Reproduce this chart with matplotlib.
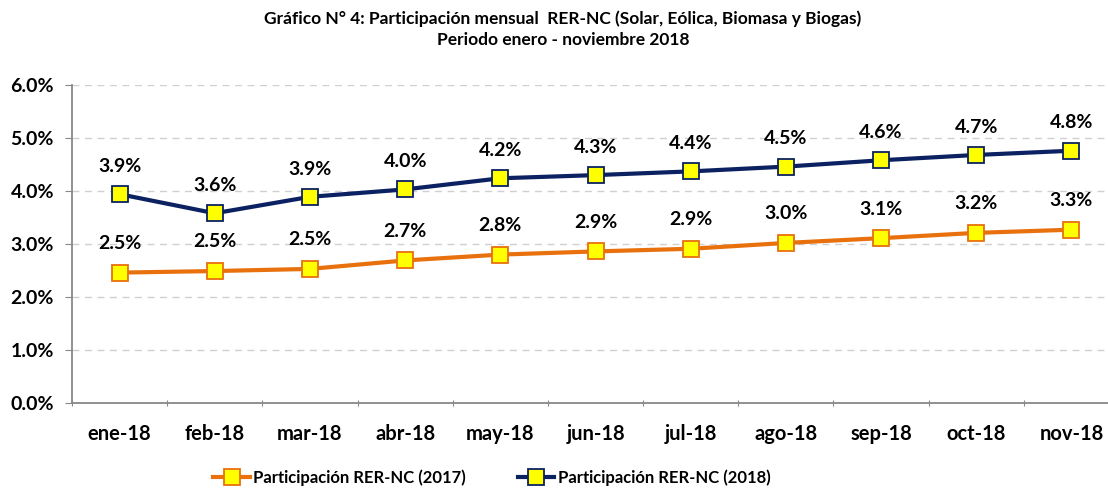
import matplotlib.pyplot as plt
from matplotlib.ticker import FixedLocator, NullFormatter, PercentFormatter

plt.rcParams['font.family'] = ['Lato', 'DejaVu Sans']
plt.rcParams['font.weight'] = 'bold'

months = ['ene-18', 'feb-18', 'mar-18', 'abr-18', 'may-18', 'jun-18',
          'jul-18', 'ago-18', 'sep-18', 'oct-18', 'nov-18']
rer_2017 = [2.46, 2.49, 2.53, 2.69, 2.80, 2.86, 2.91, 3.02, 3.11, 3.21, 3.27]
rer_2018 = [3.94, 3.58, 3.89, 4.03, 4.24, 4.30, 4.37, 4.46, 4.58, 4.68, 4.76]

fig = plt.figure(figsize=(11.08, 4.91), dpi=100)
ax = fig.add_axes([72/1108, 88/491, 1047/1108, 318/491])

x = list(range(len(months)))
orange = '#E8710E'
navy = '#0B2161'
ax.plot(x, rer_2017, color=orange, lw=3, marker='s', ms=11,
        mfc='#FFFF00', mec=orange, mew=1.3, label='Participación RER-NC (2017)', zorder=3)
ax.plot(x, rer_2018, color=navy, lw=3, marker='s', ms=11,
        mfc='#FFFF00', mec=navy, mew=1.3, label='Participación RER-NC (2018)', zorder=3)

for xi, v in zip(x, rer_2017):
    ax.annotate(f'{v:.1f}%', (xi, v), xytext=(0, 21), textcoords='offset points',
                ha='center', va='center', fontsize=14, fontweight='bold')
for xi, v in zip(x, rer_2018):
    ax.annotate(f'{v:.1f}%', (xi, v), xytext=(0, 20), textcoords='offset points',
                ha='center', va='center', fontsize=14, fontweight='bold')

ax.set_xlim(-0.5, len(months) - 0.5)
ax.set_ylim(0, 6)
ax.set_yticks([0, 1, 2, 3, 4, 5, 6])
ax.yaxis.set_major_formatter(PercentFormatter(decimals=1))
ax.xaxis.set_major_locator(FixedLocator([i - 0.5 for i in range(len(months) + 1)]))
ax.xaxis.set_major_formatter(NullFormatter())
ax.xaxis.set_minor_locator(FixedLocator(x))
ax.set_xticklabels(months, minor=True)
ax.tick_params(axis='x', which='minor', length=0, pad=15, labelsize=14.5)
ax.tick_params(axis='x', which='major', length=5, color='#888888', direction='inout')
ax.tick_params(axis='y', length=5, color='#888888', labelsize=14, pad=8)
for lab in ax.get_xticklabels(minor=True) + ax.get_yticklabels():
    lab.set_fontweight('bold')

ax.grid(axis='y', color='#d0d0d0', linestyle=(0, (5, 4)), lw=1)
ax.set_axisbelow(True)
for s in ['top', 'right']:
    ax.spines[s].set_visible(False)
for s in ['left', 'bottom']:
    ax.spines[s].set_color('#888888')
    ax.spines[s].set_linewidth(1.3)

fig.text(0.508, 0.962, 'Gráfico N° 4: Participación mensual  RER-NC (Solar, Eólica, Biomasa y Biogas)',
         ha='center', va='center', fontsize=12.5, fontweight='bold')
fig.text(0.508, 0.918, 'Periodo enero - noviembre 2018',
         ha='center', va='center', fontsize=12.5, fontweight='bold')

fig.legend(loc='center', bbox_to_anchor=(0.444, 0.028), ncol=2, frameon=False,
           handlelength=2.2, handletextpad=0.2, columnspacing=3.1,
           prop={'weight': 'bold', 'size': 12})

fig.savefig('out.png', dpi=100)
